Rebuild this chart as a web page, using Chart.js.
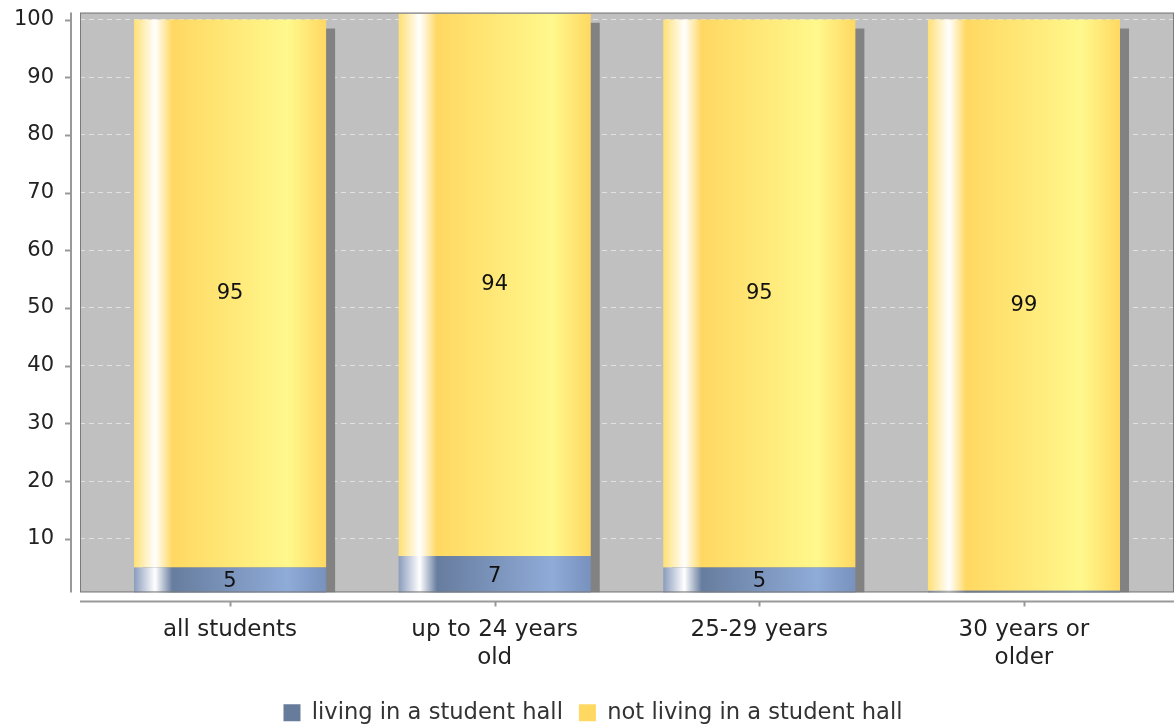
<!DOCTYPE html>
<html>
<head>
<meta charset="utf-8">
<script src="https://cdn.jsdelivr.net/npm/chart.js@4/dist/chart.umd.min.js"></script>
<style>
  body { margin: 0; background: #fff; }
  #wrap { width: 1175px; height: 728px; }
</style>
</head>
<body>
<div id="wrap"><canvas id="HallChart"></canvas></div>
<script>
// Categories on the x axis
const categories = ["all students", ["up to 24 years", "old"], "25-29 years", ["30 years or", "older"]];

// Series values (percent)
const living = [5, 7, 5, 1];
const notLiving = [95, 94, 95, 99];

// Tick labels on the y axis
const yTicks = [10, 20, 30, 40, 50, 60, 70, 80, 90, 100];

const BAR_PCT = 0.726;
const FONT = "'DejaVu Sans', sans-serif";
const legendColors = ["#677b9b", "#ffd862"];

// horizontal gradient that mimics the glossy bar look
function barFill(stops, solid) {
  return function (c) {
    const chart = c.chart;
    if (c.type !== "data" || !chart.chartArea) return solid;
    const xs = chart.scales.x;
    const cx = xs.getPixelForValue(c.dataIndex);
    const w = (xs.getPixelForValue(1) - xs.getPixelForValue(0)) * BAR_PCT;
    const g = chart.ctx.createLinearGradient(cx - w / 2, 0, cx + w / 2, 0);
    stops.forEach(s => g.addColorStop(s[0], s[1]));
    return g;
  };
}

const blueStops = [[0, "#8a9cbc"], [0.11, "#ffffff"], [0.2, "#677d9f"], [0.8, "#8fabd8"], [1, "#7891bd"]];
const yellowStops = [[0, "#ffe074"], [0.11, "#ffffff"], [0.2, "#ffd862"], [0.8, "#fff88c"], [1, "#ffd862"]];

const decor = {
  id: "decor",
  beforeDraw(chart) {
    const { ctx, chartArea: a } = chart;
    ctx.save();
    ctx.fillStyle = "#c0c0c0";
    ctx.fillRect(a.left, a.top, a.right - a.left, a.bottom - a.top);
    ctx.restore();
  },
  beforeDatasetsDraw(chart) {
    const { ctx, chartArea: a } = chart;
    const topMeta = chart.getDatasetMeta(1);
    ctx.save();
    ctx.beginPath();
    ctx.rect(a.left, a.top, a.right - a.left, a.bottom - a.top);
    ctx.clip();
    ctx.fillStyle = "#828282";
    topMeta.data.forEach(bar => {
      const p = bar.getProps(["x", "y", "width"], true);
      const top = p.y + 9;
      ctx.fillRect(p.x - p.width / 2 + 9, top, p.width, a.bottom - top);
    });
    ctx.restore();
  },
  afterDatasetsDraw(chart) {
    const { ctx, chartArea: a } = chart;
    ctx.save();
    ctx.font = "21px " + FONT;
    ctx.fillStyle = "#111";
    ctx.textAlign = "center";
    ctx.textBaseline = "middle";
    chart.data.datasets.forEach((ds, di) => {
      chart.getDatasetMeta(di).data.forEach((bar, i) => {
        const p = bar.getProps(["x", "y", "base"], true);
        const vis = Math.min(p.base, a.bottom) - Math.max(p.y, a.top);
        if (vis < 16) return;
        ctx.fillText(String(ds.data[i].y), p.x, (p.y + p.base) / 2);
      });
    });
    ctx.restore();
  },
  afterDraw(chart) {
    const { ctx, chartArea: a, scales } = chart;
    ctx.save();
    ctx.strokeStyle = "#7a7a7a";
    ctx.lineWidth = 1;
    ctx.strokeRect(a.left + 0.5, a.top + 0.5, a.right - a.left - 1, a.bottom - a.top - 1);
    ctx.strokeStyle = "#999";
    ctx.lineWidth = 2;
    ctx.beginPath();
    // y axis line with ticks
    ctx.moveTo(a.left - 9, a.top);
    ctx.lineTo(a.left - 9, a.bottom);
    yTicks.forEach(v => {
      const y = Math.round(scales.y.getPixelForValue(v)) + 0.5;
      ctx.moveTo(a.left - 9, y);
      ctx.lineTo(a.left - 15, y);
    });
    // x axis line with ticks
    ctx.moveTo(a.left, a.bottom + 9);
    ctx.lineTo(a.right, a.bottom + 9);
    categories.forEach((c, i) => {
      const x = Math.round(scales.x.getPixelForValue(i)) + 0.5;
      ctx.moveTo(x, a.bottom + 9);
      ctx.lineTo(x, a.bottom + 14);
    });
    ctx.stroke();
    ctx.restore();
  }
};

new Chart(document.getElementById("HallChart"), {
  type: "bar",
  data: {
    datasets: [
      {
        label: "living in a student hall",
        data: living.map((v, i) => ({ x: i, y: v })),
        backgroundColor: barFill(blueStops, legendColors[0]),
        borderWidth: 0,
        barPercentage: BAR_PCT,
        categoryPercentage: 1,
      },
      {
        label: "not living in a student hall",
        data: notLiving.map((v, i) => ({ x: i, y: v })),
        backgroundColor: barFill(yellowStops, legendColors[1]),
        borderWidth: 0,
        barPercentage: BAR_PCT,
        categoryPercentage: 1,
      },
    ],
  },
  options: {
    responsive: true,
    maintainAspectRatio: false,
    animation: false,
    layout: { padding: { top: 12, right: 1, left: 12, bottom: -6 } },
    plugins: {
      tooltip: { enabled: false },
      legend: {
        position: "bottom",
        labels: {
          font: { family: FONT, size: 22.6 },
          color: "#333",
          boxWidth: 17,
          boxHeight: 17,
          padding: 16,
          generateLabels: (chart) =>
            Chart.defaults.plugins.legend.labels.generateLabels(chart).map((l, i) => ({
              ...l,
              fillStyle: legendColors[i],
              strokeStyle: legendColors[i],
              lineWidth: 0,
            })),
        },
      },
    },
    scales: {
      x: {
        type: "linear",
        stacked: true,
        offset: false,
        min: -0.567,
        max: 3.567,
        grid: { display: false, offset: false },
        border: { display: false },
        afterBuildTicks: (s) => { s.ticks = categories.map((c, i) => ({ value: i })); },
        afterFit: (s) => { s.height = 93; },
        ticks: {
          font: { family: FONT, size: 23 },
          color: "#222",
          padding: 16,
          maxRotation: 0,
          autoSkip: false,
          callback: (v) => categories[v],
        },
      },
      y: {
        stacked: true,
        min: 0.7,
        max: 101.2,
        grid: { color: "#e2e2e2", drawTicks: true, tickLength: 26, tickColor: "rgba(0,0,0,0)" },
        border: { display: false, dash: [5, 4] },
        afterBuildTicks: (s) => { s.ticks = yTicks.map(v => ({ value: v })); },
        afterFit: (s) => { s.width = 68; },
        ticks: {
          font: { family: FONT, size: 21 },
          color: "#222",
          padding: 0,
        },
      },
    },
  },
  plugins: [decor],
});
</script>
</body>
</html>
